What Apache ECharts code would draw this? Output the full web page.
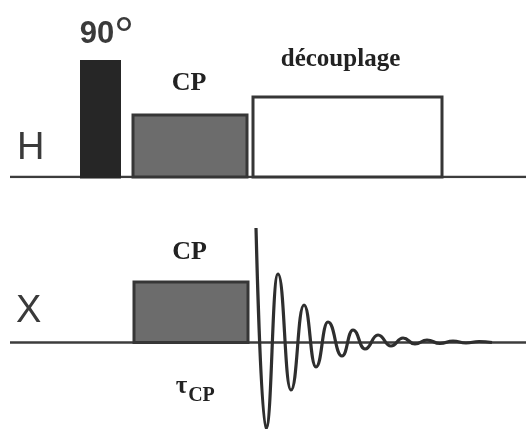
<!DOCTYPE html>
<html><head><meta charset="utf-8">
<script src="https://cdn.jsdelivr.net/npm/echarts@6/dist/echarts.min.js"></script>
<style>html,body{margin:0;padding:0;background:#fff}#c{width:526px;height:429px}</style>
</head><body><div id="c"></div>
<script>
// ---- data (time in arbitrary units, amplitude in arbitrary units) ----
const channelNames = ['H', 'X'];
const baselineTime = [10, 526];

const hPulseStart = [81.5, 133, 253];
const hPulseEnd   = [119.5, 247, 442];
const hPulseAmp   = [115.5, 62, 80];
const hPulseLabel = ['90', 'CP', 'découplage'];
const hPulseKind  = ['dark', 'gray', 'open'];

const xPulseStart = [134];
const xPulseEnd   = [248];
const xPulseAmp   = [60.5];
const xPulseLabel = ['CP'];
const xPulseKind  = ['gray'];

const fidTime = [256, 266, 278, 291, 304, 316, 328, 342, 353, 365, 378, 391, 403, 415, 427, 440, 453, 466, 479, 492];
const fidAmp  = [114.5, -86, 68.5, -47.5, 37.5, -24.5, 20.5, -13.5, 12.5, -6.5, 7.5, -3.5, 4.5, -1.5, 2.5, -1, 1.5, -0.5, 1, 0];

// ---- styles / layout ----
const INK = '#363636';
const fills = { dark: '#262626', gray: '#6c6c6c', open: '#ffffff' };
const SERIF = '"Liberation Serif", "Times New Roman", serif';
const SANS = '"Liberation Sans", Arial, sans-serif';
// label placement relative to top-centre of each pulse: [dx, dy, font, colour]
const hLabelLayout = [
  [-3.5, -27.5, 'bold 31px ' + SANS, '#3a3a3a'],
  [-1, -32, 'bold 26px ' + SERIF, '#222'],
  [-7, -37.5, 'bold 25px ' + SERIF, '#222']
];
const xLabelLayout = [[-1.5, -30, 'bold 26px ' + SERIF, '#222']];

function pulseSeries(start, end, amp, kind, labels, layout, axisIdx, extra) {
  return {
    type: 'custom',
    xAxisIndex: axisIdx, yAxisIndex: axisIdx,
    silent: true, z: 3, clip: false,
    data: start.map((s, i) => [s, end[i], amp[i]]),
    renderItem: function (params, api) {
      const i = params.dataIndex;
      const p0 = api.coord([api.value(0), 0]);
      const p1 = api.coord([api.value(1), api.value(2)]);
      const k = kind[i];
      const cx = (p0[0] + p1[0]) / 2;
      const children = [{
        type: 'rect',
        shape: { x: p0[0], y: p1[1], width: p1[0] - p0[0], height: p0[1] - p1[1] },
        style: { fill: fills[k], stroke: k === 'dark' ? fills.dark : INK, lineWidth: 3 }
      }];
      const L = layout[i];
      children.push({
        type: 'text',
        style: { text: labels[i], x: cx + L[0], y: p1[1] + L[1], font: L[2], fill: L[3], align: 'center', verticalAlign: 'middle' }
      });
      if (extra) extra(children, i, cx, p0, p1);
      return { type: 'group', children: children };
    }
  };
}

const chart = echarts.init(document.getElementById('c'), null, { renderer: 'canvas' });
chart.setOption({
  backgroundColor: '#fff',
  animation: false,
  grid: [
    { left: 0, right: 0, top: 0, height: 177 },
    { left: 0, right: 0, top: 200, height: 229 }
  ],
  xAxis: [
    { type: 'value', gridIndex: 0, min: 0, max: 526, show: false },
    { type: 'value', gridIndex: 1, min: 0, max: 526, show: false }
  ],
  yAxis: [
    { type: 'value', gridIndex: 0, min: 0, max: 177, show: false },
    { type: 'value', gridIndex: 1, min: -86.5, max: 142.5, show: false }
  ],
  series: [
    { type: 'line', xAxisIndex: 0, yAxisIndex: 0, silent: true, symbol: 'none', z: 2,
      data: baselineTime.map(t => [t, 0]), lineStyle: { color: '#3c3c3c', width: 2.5 } },
    pulseSeries(hPulseStart, hPulseEnd, hPulseAmp, hPulseKind, hPulseLabel, hLabelLayout, 0,
      function (children, i, cx, p0, p1) {
        if (i === 0) {
          children.push({ type: 'text', style: { text: '°', x: cx + 23.5, y: p1[1] - 22.8,
            font: 'normal 50px ' + SANS, fill: '#3a3a3a', align: 'center', verticalAlign: 'middle' } });
        }
      }),
    { type: 'line', xAxisIndex: 1, yAxisIndex: 1, silent: true, symbol: 'none', z: 2,
      data: baselineTime.map(t => [t, 0]), lineStyle: { color: '#3c3c3c', width: 2.5 } },
    pulseSeries(xPulseStart, xPulseEnd, xPulseAmp, xPulseKind, xPulseLabel, xLabelLayout, 1,
      function (children, i, cx, p0, p1) {
        children.push({ type: 'text', style: { text: 'τ', x: cx - 9.5, y: p0[1] + 44.5,
          font: 'bold 25px ' + SERIF, fill: '#222', align: 'center', verticalAlign: 'middle' } });
        children.push({ type: 'text', style: { text: 'CP', x: cx + 10.5, y: p0[1] + 53.5,
          font: 'bold 20px ' + SERIF, fill: '#222', align: 'center', verticalAlign: 'middle' } });
      }),
    { type: 'line', xAxisIndex: 1, yAxisIndex: 1, silent: true, symbol: 'none', z: 4, clip: false,
      smooth: 0.5, smoothMonotone: 'x',
      data: fidTime.map((t, i) => [t, fidAmp[i]]),
      lineStyle: { color: '#2e2e2e', width: 3.2 } }
  ],
  graphic: [
    { type: 'text', left: 17, top: 130, style: { text: channelNames[0], font: 'normal 38px ' + SANS, fill: '#3a3a3a' } },
    { type: 'text', left: 16, top: 293, style: { text: channelNames[1], font: 'normal 38px ' + SANS, fill: '#3a3a3a' } }
  ]
});
</script></body></html>
